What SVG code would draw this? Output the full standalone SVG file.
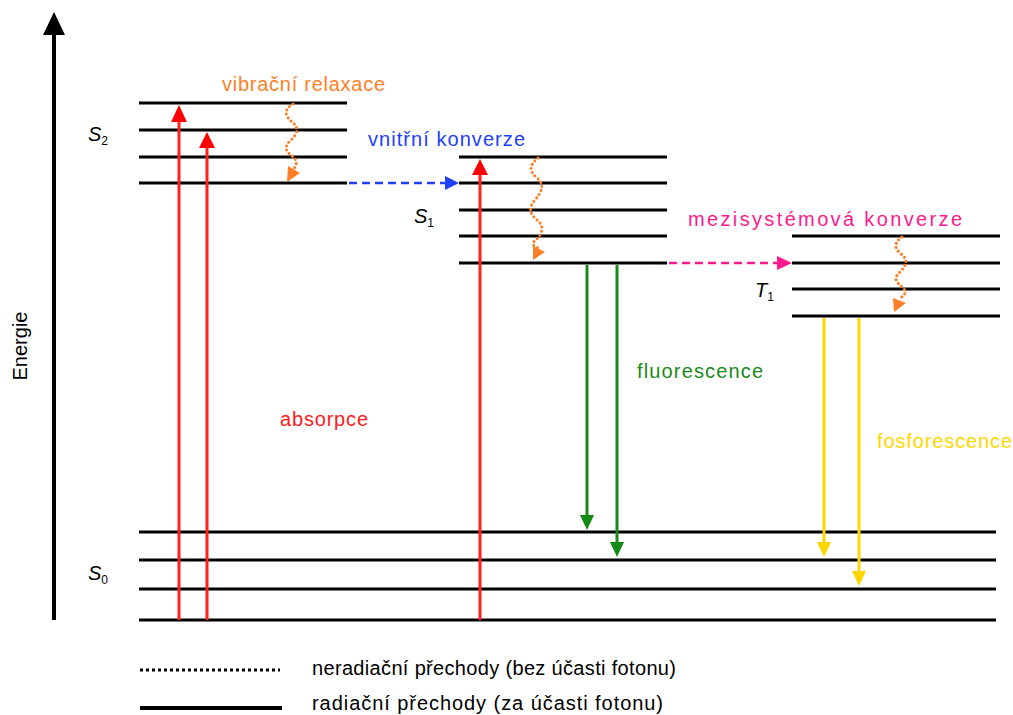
<svg xmlns="http://www.w3.org/2000/svg" width="1013" height="715" viewBox="0 0 1013 715">
<style>
.lvl{stroke:#000;stroke-width:3;fill:none}
.t{font-family:"Liberation Sans",Arial,sans-serif;font-size:20px}
.s{font-family:"Liberation Sans",Arial,sans-serif;font-size:20px;font-style:italic;fill:#000}
.sub{font-size:12px;font-style:normal}
.wave{stroke:#ff7f27;stroke-width:3;fill:none;stroke-dasharray:0.1 4.2;stroke-linecap:round}
</style>
<rect width="1013" height="715" fill="#fff"/>
<g id="axis">
<line x1="54" y1="620" x2="54" y2="32" stroke="#000" stroke-width="4"/>
<polygon points="54,12 43,35 65,35" fill="#000"/>
<text class="t" transform="translate(27,346) rotate(-90)" text-anchor="middle" font-size="18" fill="#000">Energie</text>
</g>
<g id="S2">
<line class="lvl" x1="139" y1="103" x2="347" y2="103"/>
<line class="lvl" x1="139" y1="130" x2="347" y2="130"/>
<line class="lvl" x1="139" y1="157" x2="347" y2="157"/>
<line class="lvl" x1="139" y1="183" x2="347" y2="183"/>
<text class="s" x="88" y="141">S<tspan class="sub" dy="4">2</tspan></text>
</g>
<g id="S1">
<line class="lvl" x1="459" y1="157" x2="667" y2="157"/>
<line class="lvl" x1="459" y1="183" x2="667" y2="183"/>
<line class="lvl" x1="459" y1="210" x2="667" y2="210"/>
<line class="lvl" x1="459" y1="236" x2="667" y2="236"/>
<line class="lvl" x1="459" y1="263" x2="667" y2="263"/>
<text class="s" x="414" y="223">S<tspan class="sub" dy="4">1</tspan></text>
</g>
<g id="T1">
<line class="lvl" x1="792" y1="236" x2="1000" y2="236"/>
<line class="lvl" x1="792" y1="263" x2="1000" y2="263"/>
<line class="lvl" x1="792" y1="289" x2="1000" y2="289"/>
<line class="lvl" x1="792" y1="316" x2="1000" y2="316"/>
<text class="s" x="755" y="297">T<tspan class="sub" dy="4">1</tspan></text>
</g>
<g id="S0">
<line class="lvl" x1="139" y1="532" x2="996" y2="532"/>
<line class="lvl" x1="139" y1="560" x2="996" y2="560"/>
<line class="lvl" x1="139" y1="589" x2="996" y2="589"/>
<line class="lvl" x1="139" y1="620" x2="996" y2="620"/>
<text class="s" x="88" y="580">S<tspan class="sub" dy="4">0</tspan></text>
</g>
<g id="connectors">
<g stroke="#ff2020" stroke-width="3" fill="#ff0000">
<line x1="179" y1="620" x2="179" y2="120"/>
<polygon points="179,105 171,122 187,122" stroke="none"/>
<line x1="207" y1="620" x2="207" y2="146"/>
<polygon points="207,132 199,148 215,148" stroke="none"/>
<line x1="480" y1="620" x2="480" y2="173"/>
<polygon points="480,159 472,175 488,175" stroke="none"/>
</g>
<path class="wave" d="M293,104 C283,110 285,116 292,122 C300,128 297,134 291,140 C284,146 285,151 292,156 C299,161 296,166 293,170"/>
<polygon points="287,182 300,173 288,166" fill="#ff7f27"/>
<path class="wave" d="M538,158 C528,166 530,172 537,178 C545,184 542,192 535,200 C528,208 530,214 537,220 C545,226 542,234 536,240 C530,244 534,246 538,248"/>
<polygon points="533,260 545,252 533,246" fill="#ff7f27"/>
<path class="wave" d="M902,237 C893,243 895,249 901,254 C909,260 906,266 900,272 C893,278 896,282 902,287 C908,292 904,296 900,298"/>
<polygon points="894,312 906,303 893,298" fill="#ff7f27"/>
<line x1="349" y1="183" x2="446" y2="183" stroke="#2040ff" stroke-width="2.5" stroke-dasharray="8 5"/>
<polygon points="459,183 445,176 445,190" fill="#2040ff"/>
<line x1="669" y1="263" x2="778" y2="263" stroke="#ff1a8c" stroke-width="2.5" stroke-dasharray="8 5"/>
<polygon points="792,263 777,256 777,270" fill="#ff1a8c"/>
<g stroke="#1a8a1a" stroke-width="3" fill="#138a13">
<line x1="587" y1="265" x2="587" y2="516"/>
<polygon points="587,530 580,515 594,515" stroke="none"/>
<line x1="617" y1="265" x2="617" y2="543"/>
<polygon points="617,557 610,542 624,542" stroke="none"/>
</g>
<g stroke="#ffd700" stroke-width="3" fill="#ffd700">
<line x1="824" y1="318" x2="824" y2="543"/>
<polygon points="824,557 817,542 831,542" stroke="none"/>
<line x1="859" y1="318" x2="859" y2="572"/>
<polygon points="859,586 852,571 866,571" stroke="none"/>
</g>
</g>
<g id="labels">
<text class="t" x="222" y="91" fill="#ff7f27" textLength="163">vibrační relaxace</text>
<text class="t" x="368" y="146" fill="#2040ff" textLength="157">vnitřní konverze</text>
<text class="t" x="688" y="226" fill="#ff1a8c" textLength="274">mezisystémová konverze</text>
<text class="t" x="637" y="378" fill="#1a8a1a" textLength="126">fluorescence</text>
<text class="t" x="280" y="426" fill="#ff1a1a" textLength="88">absorpce</text>
<text class="t" x="877" y="448" fill="#ffd700" textLength="135">fosforescence</text>
</g>
<g id="legend">
<line x1="140" y1="670" x2="280" y2="670" stroke="#000" stroke-width="3" stroke-dasharray="3 3"/>
<text class="t" x="312" y="675" fill="#000" textLength="364">neradiační přechody (bez účasti fotonu)</text>
<line x1="140" y1="708" x2="282" y2="708" stroke="#000" stroke-width="4"/>
<text class="t" x="312" y="710" fill="#000" textLength="351">radiační přechody (za účasti fotonu)</text>
</g>
</svg>
